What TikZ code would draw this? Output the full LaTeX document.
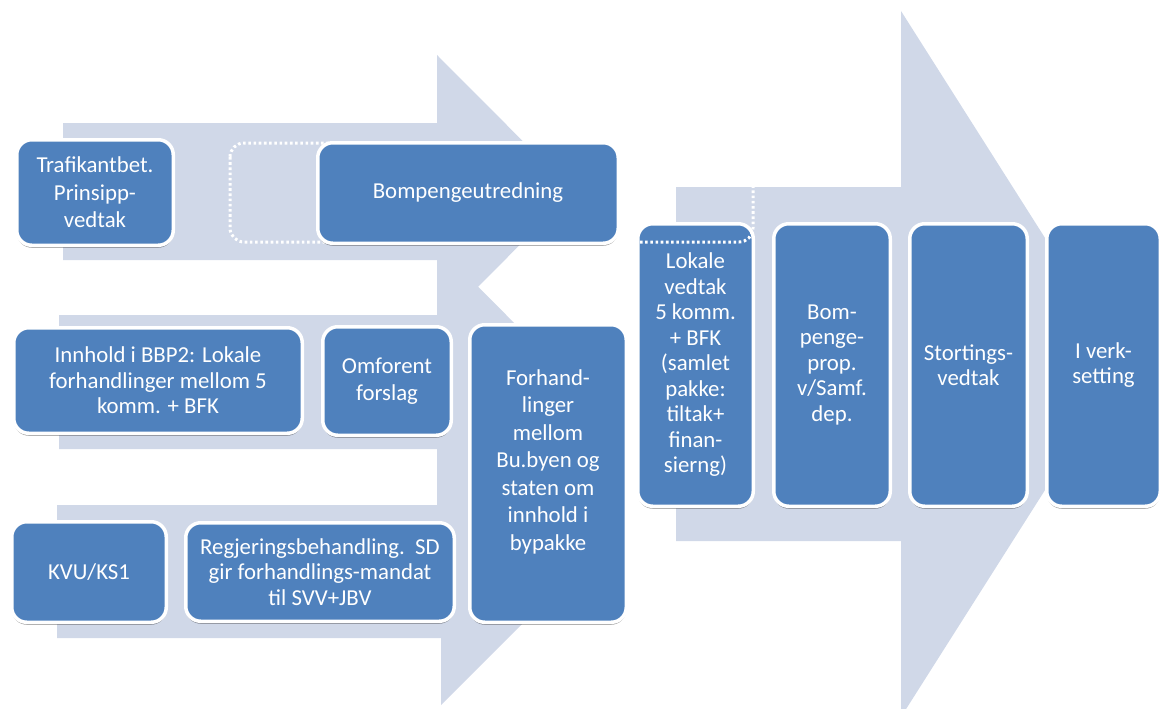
\documentclass[tikz,border=0pt]{standalone}
\usepackage{fontspec}
\setmainfont{Carlito}
\usetikzlibrary{shadows}
\definecolor{bgarrow}{RGB}{208,216,232}
\definecolor{boxblue}{RGB}{79,129,189}
\begin{document}
\begin{tikzpicture}[x=1pt,y=-1pt,
  box/.style={rectangle, rounded corners=15pt, fill=boxblue, draw=white, line width=3.5pt, text=white, align=center, inner sep=0pt, font=\fontsize{22.8}{25.5}\selectfont, drop shadow={shadow xshift=0pt, shadow yshift=-2.5pt, opacity=0.35, fill=black}},
  wide/.style={font=\fontsize{22.8}{27.5}\selectfont},
  arrowbg/.style={fill=bgarrow, draw=none},
  dotbox/.style={draw=white, line width=3pt, dash pattern=on 2.6pt off 2.6pt, rounded corners=14pt}]
\useasboundingbox (0,0) rectangle (1164,709);
\clip (0,0) rectangle (1164,709);
% background arrows
\fill[arrowbg] (63,123) -- (437,123) -- (437,55) -- (573,191.5) -- (437,328) -- (437,260) -- (63,260) -- cycle;
\fill[arrowbg] (59,315) -- (437,315) -- (437,245.5) -- (573,382) -- (437,518.5) -- (437,449) -- (59,449) -- cycle;
\fill[arrowbg] (57,505) -- (441,505) -- (441,437) -- (575,571) -- (441,705) -- (441,638) -- (57,638) -- cycle;
\fill[arrowbg] (676,187) -- (901,187) -- (901,11) -- (1125,364) -- (901,717) -- (901,541) -- (676,541) -- cycle;
% boxes
\node[box, wide, minimum width=156.5pt, minimum height=105.5pt] (trafik) at (95,192.5) {Trafikantbet.\\Prinsipp-\\vedtak};
\node[box, minimum width=288.5pt, minimum height=105.5pt] (innhold) at (158,380.5) {Innhold i BBP2: Lokale\\forhandlinger mellom 5\\komm. + BFK};
\node[box, wide, minimum width=128.5pt, minimum height=108.5pt] (omforent) at (387,381) {Omforent\\forslag};
\node[box, wide, minimum width=156.5pt, minimum height=297.5pt] (forh) at (548,473.5) {Forhand-\\linger\\mellom\\Bu.byen og\\staten om\\innhold i\\bypakke\\\mbox{}};
\node[box, minimum width=154.5pt, minimum height=100.5pt] (kvu) at (89,572) {KVU/KS1};
\node[box, minimum width=268.5pt, minimum height=98.5pt] (regj) at (320,572) {Regjeringsbehandling.\ \ SD\\gir forhandlings-mandat\\til SVV+JBV};
\node[box, minimum width=115.5pt, minimum height=282.5pt] (lokale) at (695.5,365) {Lokale\\vedtak\\5 komm.\\+ BFK\\(samlet\\pakke:\\tiltak+\\finan-\\sierng)};
\node[box, minimum width=116.5pt, minimum height=282.5pt] (bprop) at (832,365) {Bom-\\penge-\\prop.\\v/Samf.\\dep.};
\node[box, minimum width=117.5pt, minimum height=282.5pt] (stort) at (968.5,365) {Stortings-\\vedtak};
\node[box, minimum width=113.5pt, minimum height=282.5pt] (iverk) at (1103.5,365) {I verk-\\setting};
% dotted grouping outline
\draw[dotbox] (230,143) rectangle (753,242);
\node[box, minimum width=300.5pt, minimum height=100.5pt] (bomutr) at (468,193) {Bompengeutredning};
\end{tikzpicture}
\end{document}
